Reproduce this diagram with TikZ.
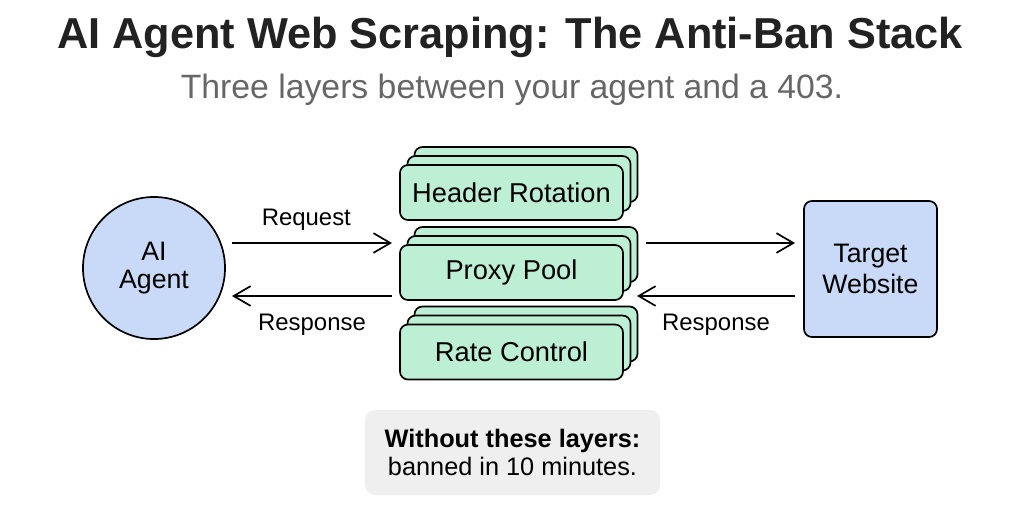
\documentclass[tikz,border=0pt]{standalone}
\usepackage{fontspec}
\setmainfont{Liberation Sans}
\usetikzlibrary{arrows.meta}
\definecolor{agentblue}{HTML}{C9DAF8}
\definecolor{layergreen}{HTML}{BDEFD5}
\definecolor{notegray}{HTML}{EFEFEF}
\definecolor{subgray}{HTML}{666666}
\definecolor{titleink}{HTML}{222222}
\begin{document}
\begin{tikzpicture}[x=0.025cm, y=-0.025cm,
    layer/.style={draw, line width=1.2pt, fill=layergreen, rounded corners=0.2cm,
      minimum width=5.575cm, minimum height=1.375cm, font=\fontsize{19.4}{22}\selectfont},
    flow/.style={line width=1.2pt, -{Straight Barb[length=12pt, width=14pt, line width=1.2pt]}},
    lbl/.style={font=\fontsize{17}{20}\selectfont}]
  \useasboundingbox (0,0) rectangle (1024,512);

  % title and subtitle
  \node[text=titleink, font=\fontsize{30.8}{36}\bfseries] (title) at (510,37)
    {AI Agent Web Scraping: The Anti-Ban Stack};
  \node[text=subgray, font=\fontsize{24}{28}\selectfont] (subtitle) at (512,90)
    {Three layers between your agent and a 403.};

  % the agent and the site
  \node[draw, circle, line width=1.2pt, fill=agentblue, minimum size=3.55cm,
    align=center, font=\fontsize{19}{20.5}\selectfont] (agent) at (154,268) {AI\\Agent};
  \node[draw, line width=1.2pt, fill=agentblue, rounded corners=0.2cm,
    minimum width=3.325cm, minimum height=3.4cm, align=center,
    font=\fontsize{19}{22.5}\selectfont] (site) at (870.5,269) {Target\\Website};

  % three stacked layers
  \foreach \name/\txt/\y in {hdr/Header Rotation/192.5, pool/Proxy Pool/272.5, rate/Rate Control/352}{
    \node[layer] (\name-b2) at (526,\y-18) {};
    \node[layer] (\name-b1) at (519,\y-9) {};
    \node[layer] (\name) at (511.5,\y) {\txt};
  }

  % arrow ends
  \coordinate (reqL) at (232,243);
  \coordinate (reqR) at (392,243);
  \coordinate (resL) at (232,296);
  \coordinate (resR) at (392,296);
  \coordinate (fwdL) at (646,243);
  \coordinate (fwdR) at (795,243);
  \coordinate (backL) at (637,296);
  \coordinate (backR) at (795,296);

  \draw[flow] (reqL) -- (reqR) node[lbl, midway, above=5pt, xshift=-4pt] (reqtxt) {Request};
  \draw[flow] (resR) -- (resL) node[lbl, midway, below=9pt] (restxt) {Response};
  \draw[flow] (fwdL) -- (fwdR);
  \draw[flow] (backR) -- (backL) node[lbl, midway, below=9pt] (backtxt) {Response};

  % the warning note
  \node[fill=notegray, rounded corners=0.25cm, minimum width=7.375cm, minimum height=2.125cm,
    align=center, font=\fontsize{18}{20}\selectfont] (note) at (512.5,452.5)
    {\textbf{Without these layers:}\\banned in 10 minutes.};
\end{tikzpicture}
\end{document}
